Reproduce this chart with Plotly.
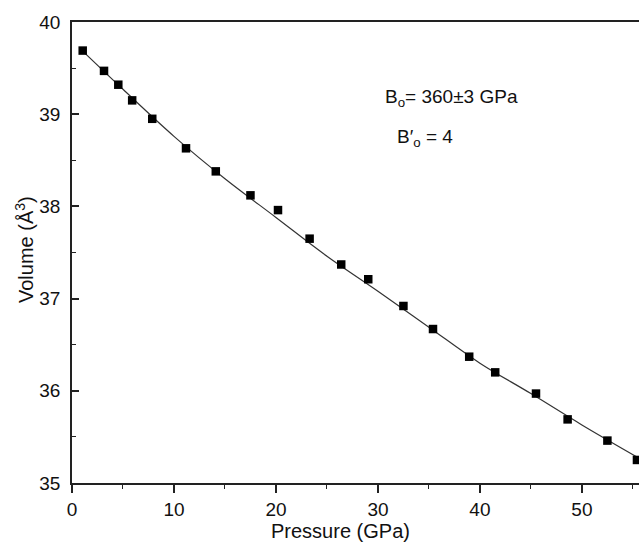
import plotly.graph_objects as go

pressure = [1.05, 3.14, 4.54, 5.9, 7.87, 11.18, 14.1, 17.5, 20.2, 23.3, 26.4,
            29.05, 32.5, 35.4, 38.95, 41.5, 45.5, 48.6, 52.5, 55.4]
volume = [39.69, 39.47, 39.32, 39.15, 38.95, 38.63, 38.38, 38.12, 37.96, 37.65,
          37.37, 37.21, 36.92, 36.67, 36.37, 36.20, 35.97, 35.69, 35.46, 35.25]

# Fitted EOS curve
fit_pressure = [1.0, 5, 10, 15, 20, 25, 30, 35, 40, 45, 50, 55.6]
fit_volume = [39.69, 39.27, 38.76, 38.30, 37.88, 37.46, 37.08, 36.69, 36.30,
              35.97, 35.63, 35.27]

x_ticks = [0, 10, 20, 30, 40, 50]
y_ticks = [35, 36, 37, 38, 39, 40]

W, H = 639, 544
L, R, T, B = 72, 0, 22, 61
FONT = "Liberation Sans, Arial, sans-serif"
PW, PH = W - L - R, H - T - B

fig = go.Figure()
fig.add_trace(go.Scatter(x=fit_pressure, y=fit_volume, mode="lines",
                         line=dict(color="#333333", width=1.2, shape="spline"),
                         hoverinfo="skip", showlegend=False))
fig.add_trace(go.Scatter(x=pressure, y=volume, mode="markers",
                         marker=dict(symbol="square", size=8.5, color="black"),
                         cliponaxis=True, showlegend=False))

fig.update_layout(
    width=W, height=H,
    margin=dict(l=L, r=R, t=T, b=B),
    paper_bgcolor="white", plot_bgcolor="white",
    font=dict(family=FONT, color="black"),
    xaxis=dict(range=[0, 55.6], tickvals=x_ticks, ticks="outside", ticklen=8,
               tickwidth=1.5, tickcolor="#222", showline=True, linewidth=1.8,
               linecolor="#222", mirror=True, showgrid=False, zeroline=False,
               tickfont=dict(size=19, family=FONT, color="#111"),
               minor=dict(dtick=5, ticks="outside", ticklen=4, tickwidth=1.2,
                          tickcolor="#222", showgrid=False)),
    yaxis=dict(range=[35, 40], tickvals=y_ticks, ticks="inside", ticklen=7,
               tickwidth=1.5, tickcolor="#222", showline=True, linewidth=1.8,
               linecolor="#222", showgrid=False, zeroline=False,
               ticklabelstandoff=6,
               tickfont=dict(size=19, family=FONT, color="#111"),
               minor=dict(dtick=0.5, ticks="inside", ticklen=4, tickwidth=1.2,
                          tickcolor="#222", showgrid=False)),
    annotations=[
        dict(text="Pressure (GPa)", xref="paper", yref="paper",
             x=(340 - L) / PW, y=-(531 - (H - B)) / PH,
             showarrow=False, font=dict(size=20, family=FONT, color="#111"),
             xanchor="center", yanchor="middle"),
        dict(text="Volume (Å<sup>3</sup>)", xref="paper", yref="paper",
             x=-(L - 24) / PW, y=1 - (250 - T) / PH, textangle=-90,
             showarrow=False, font=dict(size=20, family=FONT, color="#111"),
             xanchor="center", yanchor="middle"),
        dict(text="B<sub>o</sub>= 360±3 GPa", xref="paper", yref="paper",
             x=(383 - L) / PW, y=1 - (98 - T) / PH,
             showarrow=False, font=dict(size=19, family=FONT, color="#111"),
             xanchor="left", yanchor="middle"),
        dict(text="B′<sub>o</sub> = 4", xref="paper", yref="paper",
             x=(395 - L) / PW, y=1 - (138 - T) / PH,
             showarrow=False, font=dict(size=19, family=FONT, color="#111"),
             xanchor="left", yanchor="middle"),
    ],
)

fig.write_html("out.html", config={"displayModeBar": False})

# remove the default page margin so the figure sits at the window's corner
with open("out.html", "r", encoding="utf-8") as f:
    html = f.read()
html = html.replace("<head>", "<head><style>html,body{margin:0;padding:0;overflow:hidden;}</style>", 1)
with open("out.html", "w", encoding="utf-8") as f:
    f.write(html)
